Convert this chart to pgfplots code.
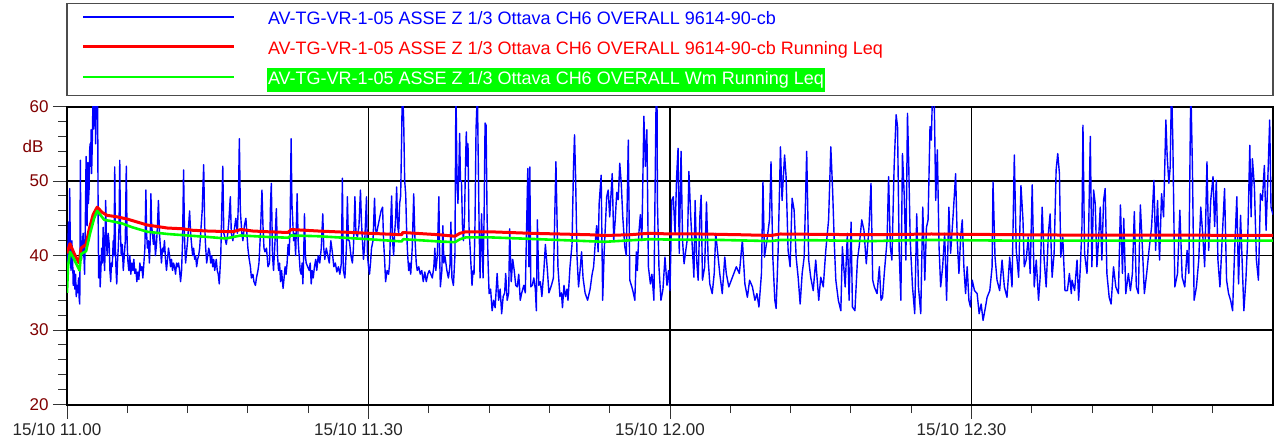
\documentclass[border=0pt]{standalone}
\usepackage{fontspec}
\setmainfont{Liberation Sans}
\usepackage{pgfplots}
\usepackage{pgfplotstable}
\pgfplotsset{compat=1.18}
\definecolor{dred}{RGB}{128,0,0}
\definecolor{pblue}{RGB}{0,0,255}
\definecolor{pred}{RGB}{255,0,0}
\definecolor{pgreen}{RGB}{0,255,0}

\pgfplotstableread{
t y
0.0 36.5
0.08 41
0.15 44.5
0.22 40
0.27 49
0.33 41
0.4 38
0.48 42
0.55 40
0.62 36
0.7 38
0.78 35.5
0.85 37.5
0.92 34.5
1.0 36
1.08 35
1.15 37
1.22 34
1.27 33.5
1.33 52.8
1.38 41
1.45 39.5
1.52 41
1.6 43
1.68 40
1.75 37.5
1.82 44
1.9 53.3
1.95 46
2.0 44
2.07 52.5
2.13 47
2.2 49
2.25 54
2.3 55
2.35 52
2.4 56.9
2.45 51
2.5 54
2.55 58
2.6 63
2.65 57
2.7 58
2.75 62
2.8 63
2.85 55
2.9 59
2.95 63
3.0 63
3.05 60
3.1 45
3.15 37
3.22 40
3.3 35.8
3.37 38
3.45 41
3.52 39
3.6 43.8
3.67 40
3.75 38
3.85 47.4
3.92 42
4.0 40
4.1 43
4.2 41.5
4.27 38
4.35 36.5
4.42 39
4.5 38.5
4.6 42
4.68 40
4.75 51.9
4.82 41
4.88 38
4.95 36.2
5.02 39
5.1 41
5.18 44
5.25 52.8
5.32 43
5.4 40
5.5 41.5
5.6 38
5.7 40
5.8 42
5.9 52
5.98 42
6.05 39.4
6.15 38
6.25 40
6.35 37.5
6.45 39
6.55 38
6.65 39.5
6.75 37.6
6.85 38.2
6.95 36.5
7.05 37.8
7.15 36.8
7.25 39
7.35 38
7.45 38.5
7.55 37
7.65 39
7.75 41
7.85 48.8
7.92 43
8.0 41
8.1 42
8.2 39
8.28 42
8.35 48.3
8.42 44
8.5 43
8.6 41.5
8.7 43
8.8 40
8.9 41.5
9.0 44
9.1 47.4
9.2 43
9.3 41
9.4 39
9.5 41
9.6 40.5
9.7 42
9.8 39.5
9.9 38
10.0 39.5
10.1 41
10.2 40
10.3 38.5
10.4 39.5
10.5 38
10.6 39
10.7 38.5
10.8 37.5
10.9 39
11.0 38.5
11.1 39
11.2 38
11.3 36.5
11.4 38
11.5 42
11.6 51.5
11.7 42
11.8 39
11.9 40.5
12.0 42
12.1 44
12.2 46
12.3 43
12.4 41.5
12.5 40
12.6 41
12.7 39.5
12.8 40
12.9 38.5
13.0 39.5
13.1 40
13.2 41
13.3 43
13.45 46
13.6 52.2
13.7 44
13.8 41
13.9 39
14.0 40
14.1 41
14.2 40.5
14.3 39
14.4 40
14.5 38.5
14.6 39.5
14.7 38
14.85 39.5
14.95 38
15.05 37.5
15.15 36.2
15.3 40
15.5 52
15.6 43
15.7 42.5
15.85 41.5
16.0 43
16.1 44.5
16.25 47.9
16.35 43
16.5 42
16.65 43.5
16.8 45
16.95 43
17.05 47
17.15 55.7
17.25 46
17.4 43
17.5 42
17.65 44
17.8 45
17.9 43
18.0 41
18.1 39.8
18.25 38.5
18.35 37
18.5 37.5
18.6 36.5
18.75 36
18.85 37
19.0 38
19.1 39
19.25 43
19.4 48.8
19.5 44
19.6 41
19.7 40.5
19.85 41
20.0 38.5
20.15 39
20.25 47
20.33 49.7
20.45 40
20.55 38
20.7 42
20.83 46.3
20.95 40
21.05 38
21.15 39
21.25 36.5
21.35 38
21.5 35.6
21.6 37
21.7 38.5
21.8 37.5
21.9 39
22.0 41.5
22.1 40
22.2 44
22.3 55.7
22.38 47
22.45 45
22.55 42
22.65 43
22.75 40
22.9 48.3
23.0 42
23.1 40
23.2 38
23.3 37.5
23.4 39
23.47 36.2
23.55 40
23.63 45.6
23.72 40
23.8 39
23.95 38.5
24.1 38
24.2 39
24.3 36.2
24.4 38
24.5 37
24.62 38.5
24.75 39.5
24.85 38
25.0 40
25.15 39
25.3 41
25.45 45.6
25.55 41
25.65 39.5
25.8 41
25.95 40
26.1 39
26.25 42
26.4 40.5
26.55 38.5
26.7 39
26.85 37.8
27.0 38.5
27.15 37.5
27.3 39
27.4 50.4
27.5 38
27.65 37
27.8 41
27.9 47.9
28.0 42
28.1 42
28.25 40
28.4 39
28.5 41
28.65 47.9
28.75 43
28.9 42.5
29.05 44
29.2 48.8
29.3 44.5
29.4 42
29.5 39.5
29.6 41
29.8 47.9
29.9 40
30.0 38.5
30.1 37.5
30.2 39
30.3 41
30.45 42
30.6 47.7
30.7 43.5
30.8 43
30.95 44
31.1 45
31.25 46
31.4 46.5
31.5 42
31.6 39.5
31.7 36.5
31.85 38
32.0 37.5
32.1 39
32.2 44
32.3 48
32.4 42
32.5 40
32.6 43
32.7 45
32.8 49.2
32.9 44
33.0 43
33.1 47
33.2 48
33.3 56
33.37 63
33.45 60
33.5 58.2
33.6 50
33.7 48.3
33.8 43
33.9 40
34.0 38
34.1 39
34.2 37.5
34.35 41
34.5 48.3
34.6 43
34.75 39
34.85 38
35.0 38.5
35.15 37.5
35.3 38
35.45 36.5
35.6 37.8
35.75 36.5
35.9 37.5
36.05 38
36.2 37.5
36.35 37
36.5 38.5
36.6 41
36.7 38
36.85 40
37.0 47.9
37.08 40
37.15 35.8
37.3 38
37.4 44
37.5 39
37.6 40
37.8 38
37.95 37
38.1 38.5
38.2 44.5
38.3 37
38.45 36
38.6 40
38.7 63
38.8 50.5
38.9 47
39.0 52
39.07 56.4
39.15 50
39.25 50
39.35 44
39.45 42
39.55 45
39.65 52
39.73 56.6
39.82 52
39.9 55
40.0 43.9
40.15 40
40.3 36
40.4 38
40.5 37.5
40.6 44.5
40.7 57
40.78 60
40.83 63
40.9 55
41.0 44.5
41.1 37
41.25 45.6
41.4 37
41.5 45
41.6 57.8
41.7 57.5
41.8 45
41.9 39
42.0 34.9
42.15 35.5
42.3 32.6
42.45 34
42.6 33
42.8 37.6
42.95 34
43.1 35.5
43.25 32.2
43.4 34.5
43.55 35
43.65 37.6
43.8 34
43.95 35
44.05 43.6
44.2 36.5
44.35 39.5
44.5 38
44.65 36
44.8 35.8
44.95 37.5
45.1 34
45.25 35
45.45 36
45.6 35
45.85 51.7
45.95 38.5
46.05 51.9
46.15 35.8
46.3 36
46.45 37
46.6 35.5
46.7 32.6
46.8 44.8
46.95 36
47.1 36.5
47.25 34.5
47.45 38
47.6 41.5
47.8 38
47.95 35
48.2 36
48.4 37
48.65 52.6
48.85 38.5
49.05 34.5
49.2 35
49.3 33
49.45 36
49.6 34.5
49.75 35.5
49.85 34
50.05 38.5
50.25 41.5
50.4 52
50.5 56.2
50.6 51
50.75 39.8
50.9 35.8
51.05 38
51.2 40.5
51.35 37
51.55 35
51.8 34
52.05 35.5
52.25 37.5
52.4 38.5
52.55 41.5
52.7 44
52.85 40.5
52.95 47
53.15 50.8
53.3 34
53.45 40.5
53.7 47.9
53.85 48.8
54.0 45.2
54.25 51
54.4 42
54.55 44.8
54.7 48.5
54.85 47.5
55.0 52.4
55.15 49.7
55.3 45.2
55.5 41.2
55.65 40
55.85 55.5
56.0 36.7
56.2 35.8
56.35 35
56.5 34
56.65 40.5
56.75 38
56.9 43
57.05 45.5
57.2 42
57.4 58.7
57.55 52
57.7 56.9
57.85 38.5
58.05 36.2
58.2 37.5
58.4 34
58.5 47
58.6 59.2
58.7 63
58.75 47
58.9 38.5
59.1 34
59.3 35.5
59.5 39.8
59.7 36
59.85 38
60.0 35.3
60.1 42
60.17 47.4
60.33 47.9
60.5 43
60.66 50.6
60.8 54.4
60.92 40.3
61.1 54
61.25 42
61.4 38.9
61.58 40.8
61.75 42.5
61.88 51.3
62.05 45.6
62.2 41.6
62.38 37.1
62.5 47.4
62.65 39.4
62.8 36.7
62.97 45.2
63.1 48.1
63.23 36.7
63.45 38.5
63.63 47.2
63.8 39.4
63.96 36.2
64.2 34.9
64.4 37.6
64.55 43
64.72 40.7
64.95 37.6
65.2 34.9
65.45 39.8
65.6 37.6
65.85 35.8
66.1 36.7
66.35 37.6
66.6 38.5
66.9 37.6
67.2 42.1
67.45 36.2
67.7 34.4
67.92 36.7
68.2 35.8
68.45 34
68.65 34.9
68.85 33.1
69.1 37.6
69.25 49.9
69.4 39.8
69.65 42.1
69.9 44.8
70.05 52.6
70.23 39.8
70.43 34
70.56 32.9
70.76 40.7
70.99 54.6
71.15 47.4
71.4 53.5
71.55 50.6
71.75 40.7
71.95 38.5
72.15 47.7
72.35 46.1
72.55 39.8
72.75 37.1
72.95 33.5
73.15 37.6
73.35 39.8
73.6 54
73.8 39.4
74.0 37.1
74.25 35.3
74.5 39.4
74.8 34
75.0 37.1
75.25 35.8
75.5 40.7
75.78 44.8
76.0 54.6
76.18 48.8
76.35 41.6
76.5 36.7
76.75 34
77.0 32.6
77.15 41.2
77.43 35.8
77.65 43
77.82 34
78.02 44.5
78.15 33.1
78.4 32.6
78.65 39.4
78.82 41.2
79.08 44.8
79.3 43.4
79.53 38.9
79.8 43.8
80.0 49.7
80.17 36.7
80.33 35.8
80.6 34.9
80.83 38.5
81.0 34
81.15 34.4
81.32 37.6
81.6 42.1
81.75 50.6
81.92 41.2
82.08 39.4
82.3 51.9
82.5 58.9
82.64 57.3
82.8 40.7
82.97 34
83.13 53.7
83.3 48.3
83.47 39.4
83.63 59.1
83.76 51.9
83.9 42.1
84.13 35.8
84.35 32.2
84.55 45.6
84.72 35.8
84.95 32.2
85.15 46.5
85.35 36.7
85.52 43.8
85.68 44.8
85.87 57.3
86.0 55.5
86.14 63
86.27 63
86.44 47.4
86.6 54.2
86.77 41.2
86.93 35.8
87.13 38.5
87.33 43
87.52 34
87.75 46.5
87.92 40.3
88.18 45.6
88.42 51
88.58 42.1
88.75 37.6
88.92 42.5
89.08 44.8
89.24 38.5
89.41 34.9
89.57 38.5
89.74 34
89.9 33.1
90.07 36.7
90.3 35.3
90.56 34.9
90.76 32.2
90.96 33.5
91.15 31.3
91.39 33.1
91.55 34.4
91.82 35.3
92.05 38.5
92.14 49.9
92.34 39.8
92.54 36.7
92.8 35.3
93.04 39.4
93.27 35.8
93.53 34.4
93.8 39.8
94.03 35.8
94.26 53.5
94.45 40.7
94.69 37.1
94.92 49.4
95.12 44.8
95.25 38.5
95.44 39.4
95.64 42.5
95.84 37.6
96.04 49.5
96.24 35.8
96.44 39.4
96.67 34
96.83 37.1
97.03 46.5
97.23 39.4
97.43 35.8
97.65 43
97.82 45.6
98.02 37.1
98.22 40.3
98.42 51.5
98.58 53.7
98.75 51
98.88 39.8
99.08 42.5
99.3 35.3
99.54 35.3
99.74 37.6
99.93 34.9
100.0 36.7
100.26 35.3
100.5 39.4
100.66 34
100.83 38.5
100.99 43.9
101.09 57.5
101.25 40.3
101.49 37.6
101.65 43
101.82 56
101.98 38.5
102.15 48.8
102.31 47
102.48 38.5
102.64 42.1
102.81 46.5
102.97 39.4
103.14 47.4
103.3 49
103.47 37.6
103.7 34.4
103.89 33.5
104.13 38.5
104.36 35.8
104.62 34.9
104.82 46.8
105.02 37.6
105.15 45
105.35 34.9
105.61 37.6
105.81 35.3
106.01 37.6
106.2 45.9
106.4 35.8
106.6 34.9
106.8 46.8
107.0 41.2
107.2 34.9
107.43 37.6
107.66 40.7
107.92 43.9
108.15 50.1
108.32 40.7
108.51 47.4
108.71 39.4
108.91 48.3
109.11 45.2
109.34 58.2
109.47 53.3
109.64 49.7
109.77 51.9
109.9 63
110.03 55.5
110.23 35.8
110.5 37.6
110.73 46.1
110.96 37.1
111.22 35.8
111.45 40.7
111.62 37.6
111.82 63
111.98 51.9
112.15 34
112.38 35.8
112.61 39.4
112.81 46.5
113.0 43
113.2 38.5
113.43 52.6
113.6 40.7
113.8 47.4
114.03 50.6
114.19 43.9
114.36 50.1
114.52 39.4
114.72 35.8
114.92 41.6
115.18 49.0
115.38 36.7
115.58 34.9
115.78 34
115.98 32.6
116.17 40.3
116.4 47.9
116.57 36.2
116.77 45.4
116.97 37.6
117.1 32.6
117.3 36.7
117.49 42.5
117.69 54.8
117.82 45.2
117.95 53
118.15 49.2
118.35 39.4
118.55 36.7
118.75 48.3
118.94 47.4
119.14 52.1
119.31 43.4
119.47 49.7
119.67 58.2
119.8 46.5
120.0 45.5
}\bluedata

\pgfplotstableread{
t y
0 40.3
0.3 41.6
0.7 40.3
1.2 39.0
1.4 41.0
1.9 41.5
2.2 43.5
2.6 45.5
3.0 46.5
3.5 45.8
4.0 45.4
5.0 45.2
6.0 44.9
7.0 44.5
8.0 44.1
9.0 43.9
10.0 43.7
11.5 43.6
12.5 43.4
14.0 43.3
16.5 43.2
17.3 43.5
18.5 43.3
20.0 43.2
22.0 43.1
22.3 43.5
25.0 43.3
30.0 43.0
33.3 42.8
33.4 43.1
37.0 42.8
38.6 42.6
39.1 43.0
39.7 43.2
42.0 43.2
46.0 43.0
52.0 42.8
53.5 42.7
56.0 42.8
58.0 43.0
60.0 42.9
63.0 42.9
67.0 42.8
70.0 42.7
71.0 42.9
75.0 42.85
80.0 42.8
83.5 42.85
86.0 42.9
90.0 42.85
95.0 42.8
100.0 42.75
110.0 42.75
120.0 42.7
}\reddata

\pgfplotstableread{
t y
0 35.0
0.1 38.5
0.3 40.5
0.6 39.8
1.25 38.0
1.4 40.2
1.9 40.6
2.3 43.0
2.7 45.0
3.0 46.0
3.3 45.5
3.7 44.8
4.5 44.6
5.5 44.3
6.5 43.8
8.0 43.2
10.0 42.9
12.0 42.7
14.0 42.5
15.8 42.3
17.3 42.7
20.0 42.5
22.0 42.4
22.3 42.7
25.0 42.6
30.0 42.2
33.3 41.9
33.45 42.2
37.0 41.9
38.6 41.8
39.1 42.2
39.7 42.45
42.0 42.45
46.0 42.25
53.5 41.85
56.0 42.05
58.0 42.2
60.0 42.15
65.0 42.1
70.0 41.95
71.0 42.1
75.0 42.05
80.0 41.95
83.5 42.05
86.0 42.1
90.0 42.05
95.0 42.0
100.0 42.0
110.0 42.0
120.0 42.0
}\greendata

\begin{document}
\begin{tikzpicture}
\begin{axis}[
  name=main,
  scale only axis,
  width=1206pt, height=298pt,
  xmin=0, xmax=120, ymin=20, ymax=60,
  xtick={0,30,60,90},
  xticklabels={15/10 11.00, 15/10 11.30, 15/10 12.00, 15/10 12.30},
  minor xtick={6,12,18,24,36,42,48,54,66,72,78,84,96,102,108,114},
  ytick={20,30,40,50,60},
  minor ytick={22,24,26,28,32,34,36,38,42,44,46,48,52,54,56,58},
  xtick pos=bottom, ytick pos=left,
  tick align=outside,
  major tick length=14pt, minor tick length=8.5pt,
  every tick/.style={black!80, line width=1pt},
  xmajorgrids, ymajorgrids,
  major grid style={black, line width=1.6pt},
  axis line style={black, line width=2pt},
  /pgf/number format/assume math mode=true,
  yticklabel style={font=\fontsize{17}{20}\selectfont, text=dred, xshift=-1pt},
  xticklabel style={font=\fontsize{17}{20}\selectfont, text=black!85, yshift=-1pt, xshift=-10pt},
  ylabel={dB},
  ylabel style={rotate=-90, at={(axis description cs:0,0.866)}, anchor=east, xshift=-20pt, font=\fontsize{17}{20}\selectfont, text=dred},
  legend image code/.code={\draw[#1] (0pt,3pt) -- (150pt,3pt);},
  legend style={at={(0,1)}, anchor=south west, xshift=15pt, yshift=14.6pt,
    draw=none, fill=none, inner sep=0pt, outer sep=0pt,
    column sep=32pt, row sep=6pt,
    font=\fontsize{18}{20}\selectfont,
    nodes={inner xsep=1pt, inner ysep=3pt, text height=14pt, text depth=4pt}},
  legend cell align=left,
]
\addplot[pblue, line width=1.4pt, line join=round] table[x=t, y=y] {\bluedata};
\addlegendentry[text=pblue]{AV-TG-VR-1-05 ASSE Z 1/3 Ottava CH6 OVERALL 9614-90-cb}
\addplot[pred, line width=3pt, line join=round] table[x=t, y=y] {\reddata};
\addlegendentry[text=pred]{AV-TG-VR-1-05 ASSE Z 1/3 Ottava CH6 OVERALL 9614-90-cb Running Leq}
\addplot[pgreen, line width=2.6pt, line join=round] table[x=t, y=y] {\greendata};
\addlegendentry[text=white, fill=pgreen]{AV-TG-VR-1-05 ASSE Z 1/3 Ottava CH6 OVERALL Wm Running Leq}
\end{axis}
\draw[black!70, line width=1.3pt] ([yshift=11pt]main.north west) rectangle ([yshift=103pt]main.north east);
\path ([xshift=-67pt,yshift=-41pt]main.south west) rectangle ([xshift=8pt,yshift=106.6pt]main.north east);
\end{tikzpicture}
\end{document}
